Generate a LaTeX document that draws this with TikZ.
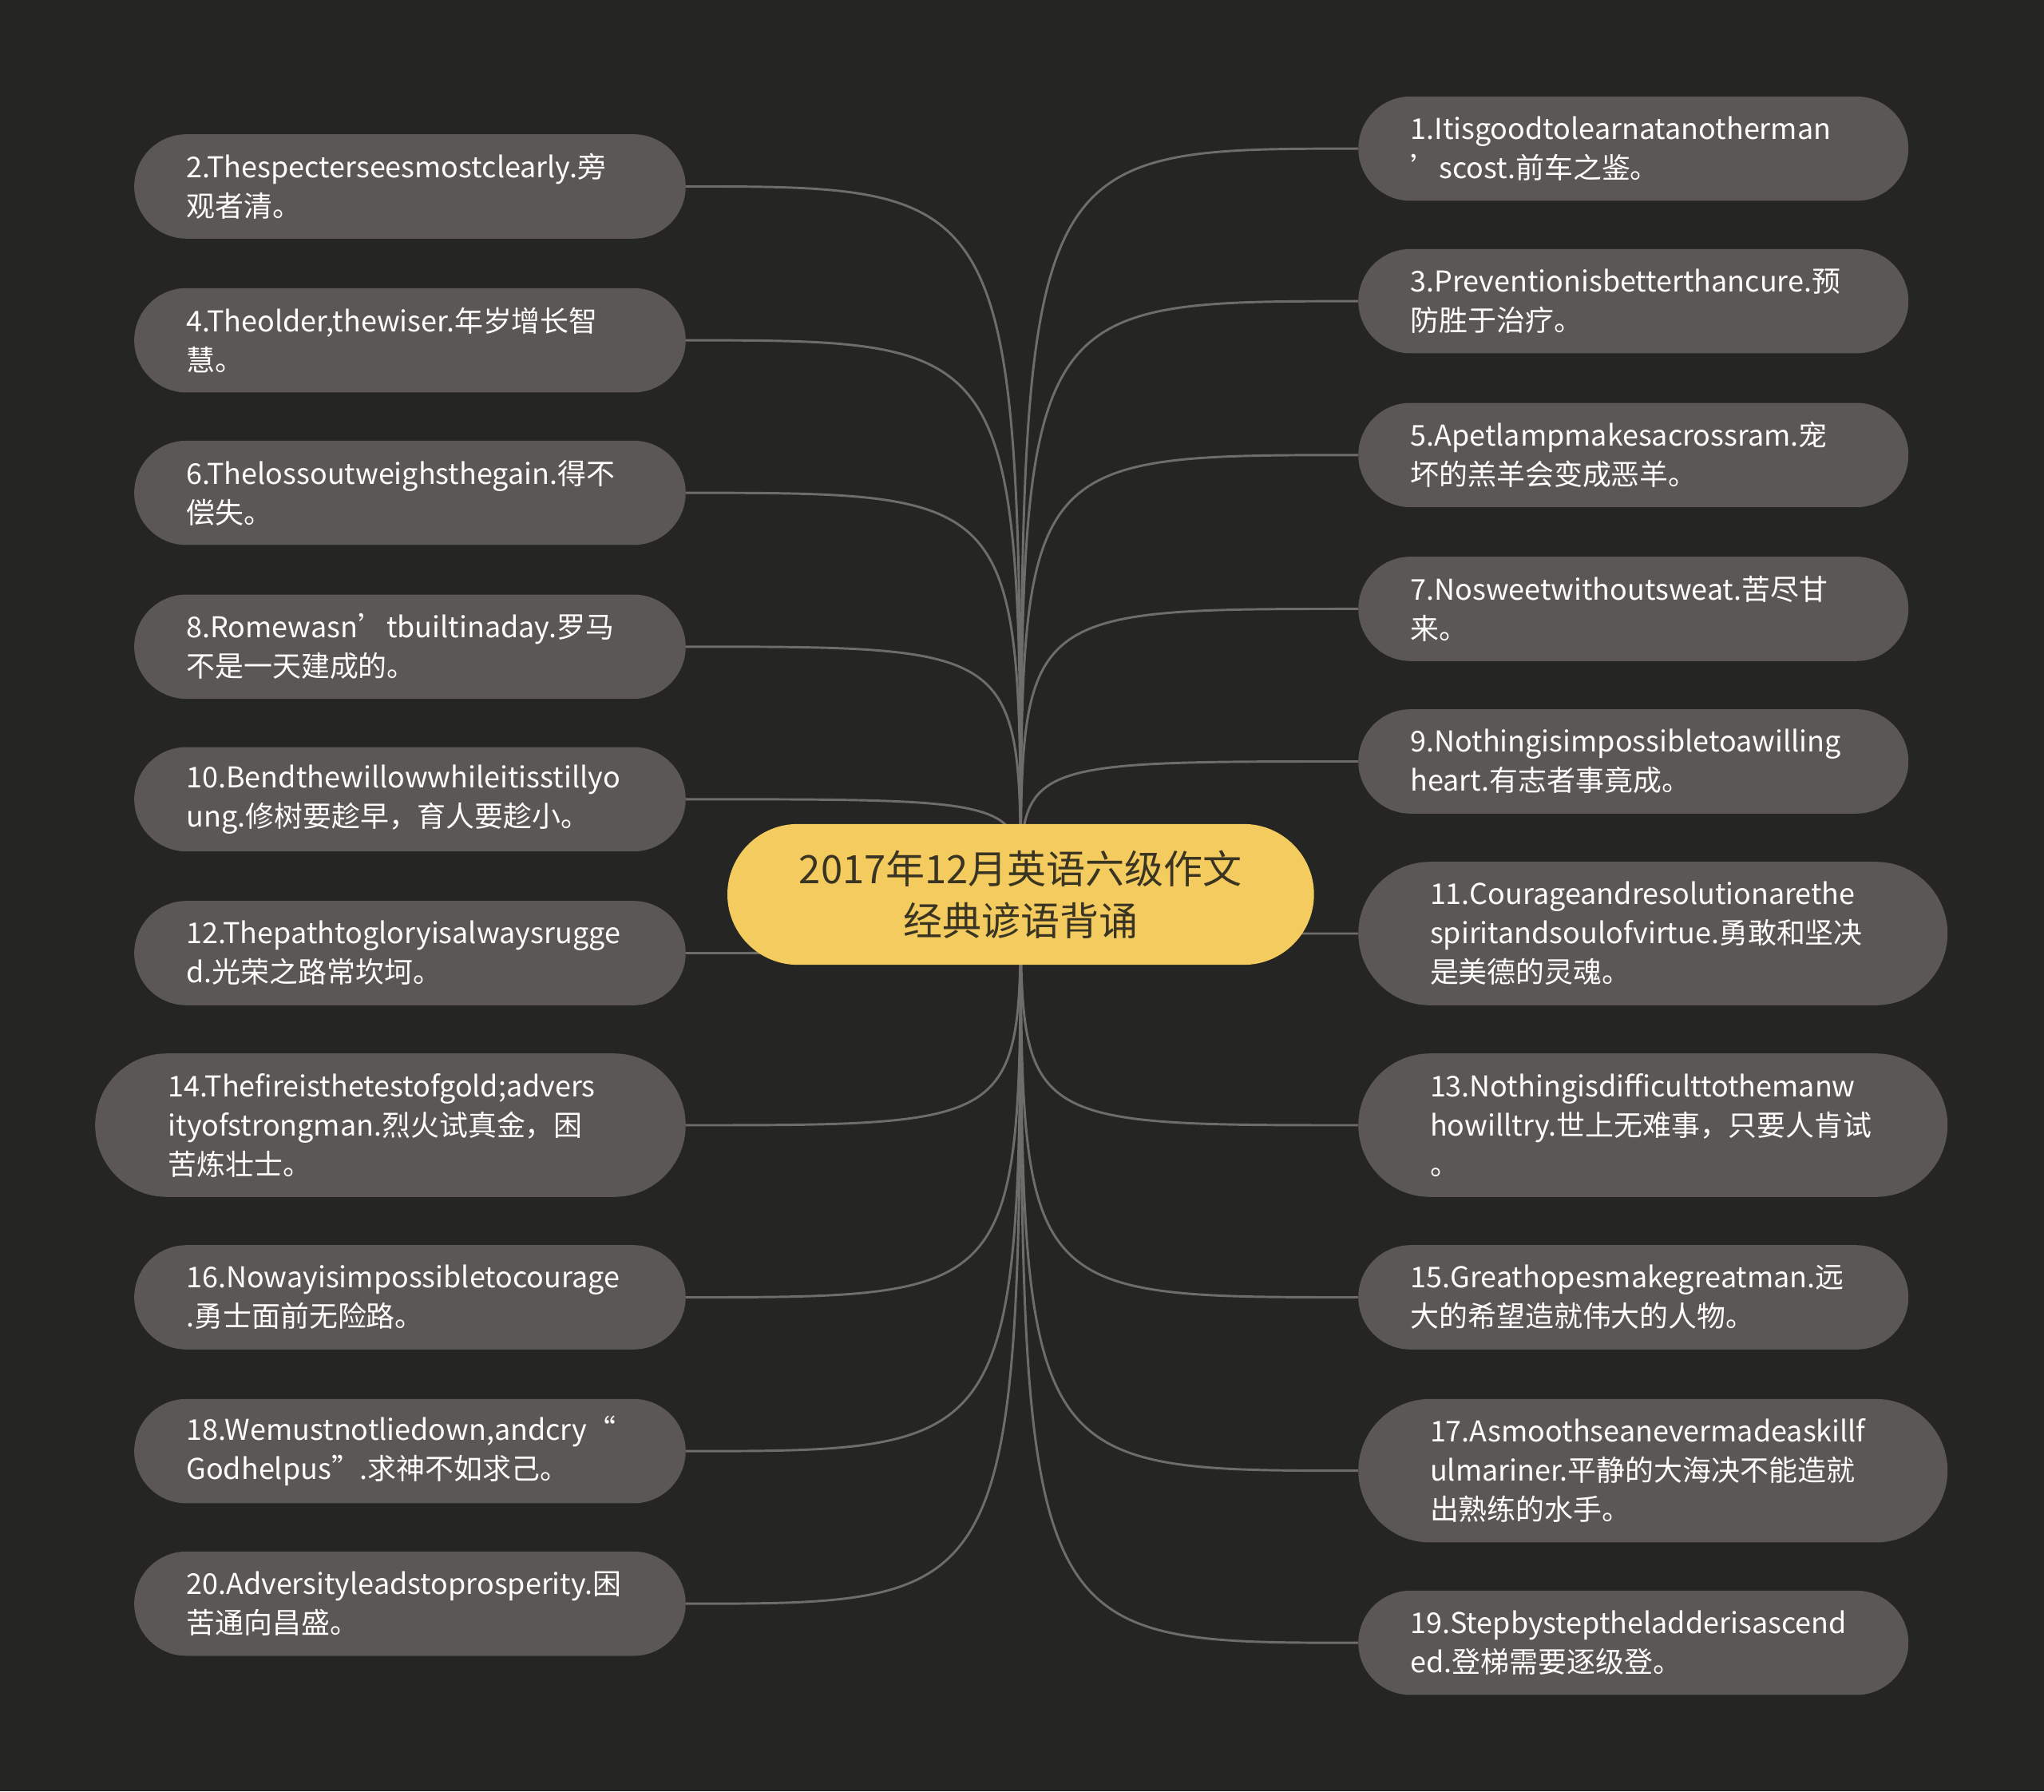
\documentclass[tikz,border=0pt]{standalone}
\usepackage{fontspec}
\setmainfont{Noto Sans CJK SC}
\usetikzlibrary{backgrounds}
\definecolor{board}{HTML}{252523}
\definecolor{leafgrey}{HTML}{5A5754}
\definecolor{rootgold}{HTML}{F3CB5E}
\definecolor{rootink}{HTML}{3A3423}
\definecolor{twig}{HTML}{6F6D6A}

\begin{document}
\begin{tikzpicture}[x=1pt,y=-1pt,
  leaf/.style={rounded corners=40pt,fill=leafgrey,text=white,align=left,inner ysep=0pt,
    inner xsep=40pt,text width=343pt,minimum height=80pt,font=\fontsize{22}{30}\selectfont},
  tallleaf/.style={leaf,rounded corners=55pt,inner xsep=55pt,text width=342pt,minimum height=110pt},
  branch/.style={twig,line width=1.8pt}]
\useasboundingbox (0,0) rectangle (1568,1374);
\node[rounded corners=54pt,fill=rootgold,text=rootink,align=center,minimum width=450pt,minimum height=108pt,
  font=\fontsize{30}{40}\selectfont] (root) at (783,686) {2017年12月英语六级作文\\经典谚语背诵};

\node[leaf] (n2) at (314.5,143) {2.Thespecterseesmostclearly.旁\\观者清。};
\node[leaf] (n4) at (314.5,261) {4.Theolder,thewiser.年岁增长智\\慧。};
\node[leaf] (n6) at (314.5,378) {6.Thelossoutweighsthegain.得不\\偿失。};
\node[leaf] (n8) at (314.5,496) {8.Romewasn’tbuiltinaday.罗马\\不是一天建成的。};
\node[leaf] (n10) at (314.5,613) {10.Bendthewillowwhileitisstillyo\\ung.修树要趁早，育人要趁小。};
\node[leaf] (n12) at (314.5,731) {12.Thepathtogloryisalwaysrugge\\d.光荣之路常坎坷。};
\node[tallleaf,inner xsep=56pt,text width=341pt] (n14) at (299.5,863)
  {14.Thefireisthetestofgold;advers\\ityofstrongman.烈火试真金，困\\苦炼壮士。};
\node[leaf] (n16) at (314.5,995) {16.Nowayisimpossibletocourage\\.勇士面前无险路。};
\node[leaf] (n18) at (314.5,1113) {18.Wemustnotliedown,andcry“\\Godhelpus”.求神不如求己。};
\node[leaf] (n20) at (314.5,1230) {20.Adversityleadstoprosperity.困\\苦通向昌盛。};

\node[leaf,text width=342pt] (n1) at (1253,114) {1.Itisgoodtolearnatanotherman\\’scost.前车之鉴。};
\node[leaf,text width=342pt] (n3) at (1253,231) {3.Preventionisbetterthancure.预\\防胜于治疗。};
\node[leaf,text width=342pt] (n5) at (1253,349) {5.Apetlampmakesacrossram.宠\\坏的羔羊会变成恶羊。};
\node[leaf,text width=342pt] (n7) at (1253,467) {7.Nosweetwithoutsweat.苦尽甘\\来。};
\node[leaf,text width=342pt] (n9) at (1253,584) {9.Nothingisimpossibletoawilling\\heart.有志者事竟成。};
\node[tallleaf] (n11) at (1268,716) {11.Courageandresolutionarethe\\spiritandsoulofvirtue.勇敢和坚决\\是美德的灵魂。};
\node[tallleaf] (n13) at (1268,863) {13.Nothingisdifficulttothemanw\\howilltry.世上无难事，只要人肯试\\。};
\node[leaf,text width=342pt] (n15) at (1253,995) {15.Greathopesmakegreatman.远\\大的希望造就伟大的人物。};
\node[tallleaf] (n17) at (1268,1128) {17.Asmoothseanevermadeaskillf\\ulmariner.平静的大海决不能造就\\出熟练的水手。};
\node[leaf,text width=342pt] (n19) at (1253,1260) {19.Stepbysteptheladderisascend\\ed.登梯需要逐级登。};

\begin{scope}[on background layer]
\fill[board] (0,0) rectangle (1568,1374);
\foreach \n in {n2,n4,n6,n8,n10,n12,n14,n16,n18,n20}
  \draw[branch] (root.center) .. controls (root.center |- \n.east) .. (\n.east);
\foreach \n in {n1,n3,n5,n7,n9,n11,n13,n15,n17,n19}
  \draw[branch] (root.center) .. controls (root.center |- \n.west) .. (\n.west);
\end{scope}
\end{tikzpicture}
\end{document}
